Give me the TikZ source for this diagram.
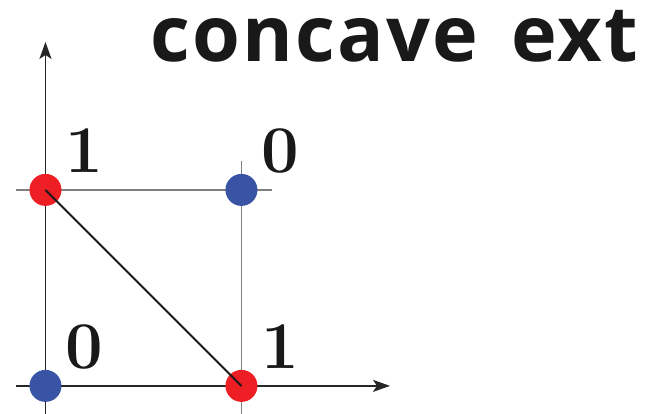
\documentclass[tikz,border=0pt]{standalone}
\usepackage{tikz}
\usepackage{xcolor}
\usepackage{fontspec}
\setsansfont{Open Sans}
\usetikzlibrary{arrows.meta}

\definecolor{dotred}{RGB}{237,30,36}
\definecolor{dotblue}{RGB}{57,84,164}

\begin{document}
\begin{tikzpicture}[x=3.92cm, y=3.92cm,
    axis_style/.style={-{Stealth[length=0.34cm, width=0.24cm, inset=0.08cm]}, line width=1.1pt, black!85},
    grid_style/.style={line width=0.8pt, gray},
    dot_style/.style={circle, fill, inner sep=0pt, minimum size=0.64cm},
    value_style/.style={font=\fontsize{38}{40}\selectfont\bfseries, text=black!90},
    title_style/.style={font=\fontsize{44}{48}\selectfont\sffamily\bfseries\addfontfeatures{LetterSpace=3}, text=black!90, anchor=base}
]
    \useasboundingbox (-0.232,-0.143) rectangle (3.105,1.969);

    % Axis ends
    \coordinate (x_start) at (-0.15,0);
    \coordinate (x_end) at (1.758,0);
    \coordinate (y_start) at (0,-0.143);
    \coordinate (y_end) at (0,1.755);

    % Draw grid lines
    \draw[grid_style] (-0.15,1) -- (1.156,1);
    \draw[grid_style] (1,-0.143) -- (1,1.148);

    % Draw axes
    \draw[axis_style] (x_start) -- (x_end);
    \draw[axis_style] (y_start) -- (y_end);

    % Corner points
    \node (p00) at (0,0) [dot_style, dotblue] {};
    \node (p10) at (1,0) [dot_style, dotred] {};
    \node (p01) at (0,1) [dot_style, dotred] {};
    \node (p11) at (1,1) [dot_style, dotblue] {};

    % Line between the two ones
    \draw[line width=1.1pt, black!90] (p01.center) -- (p10.center);

    % Values at the corners
    \node (v00) at (0.2,0.2) [value_style] {0};
    \node (v10) at (1.196,0.2) [value_style] {1};
    \node (v01) at (0.2,1.2) [value_style] {1};
    \node (v11) at (1.196,1.2) [value_style] {0};

    % Title
    \node (title) at (1.78,1.653) [title_style] {concave\hspace{6pt} ext};

\end{tikzpicture}
\end{document}
